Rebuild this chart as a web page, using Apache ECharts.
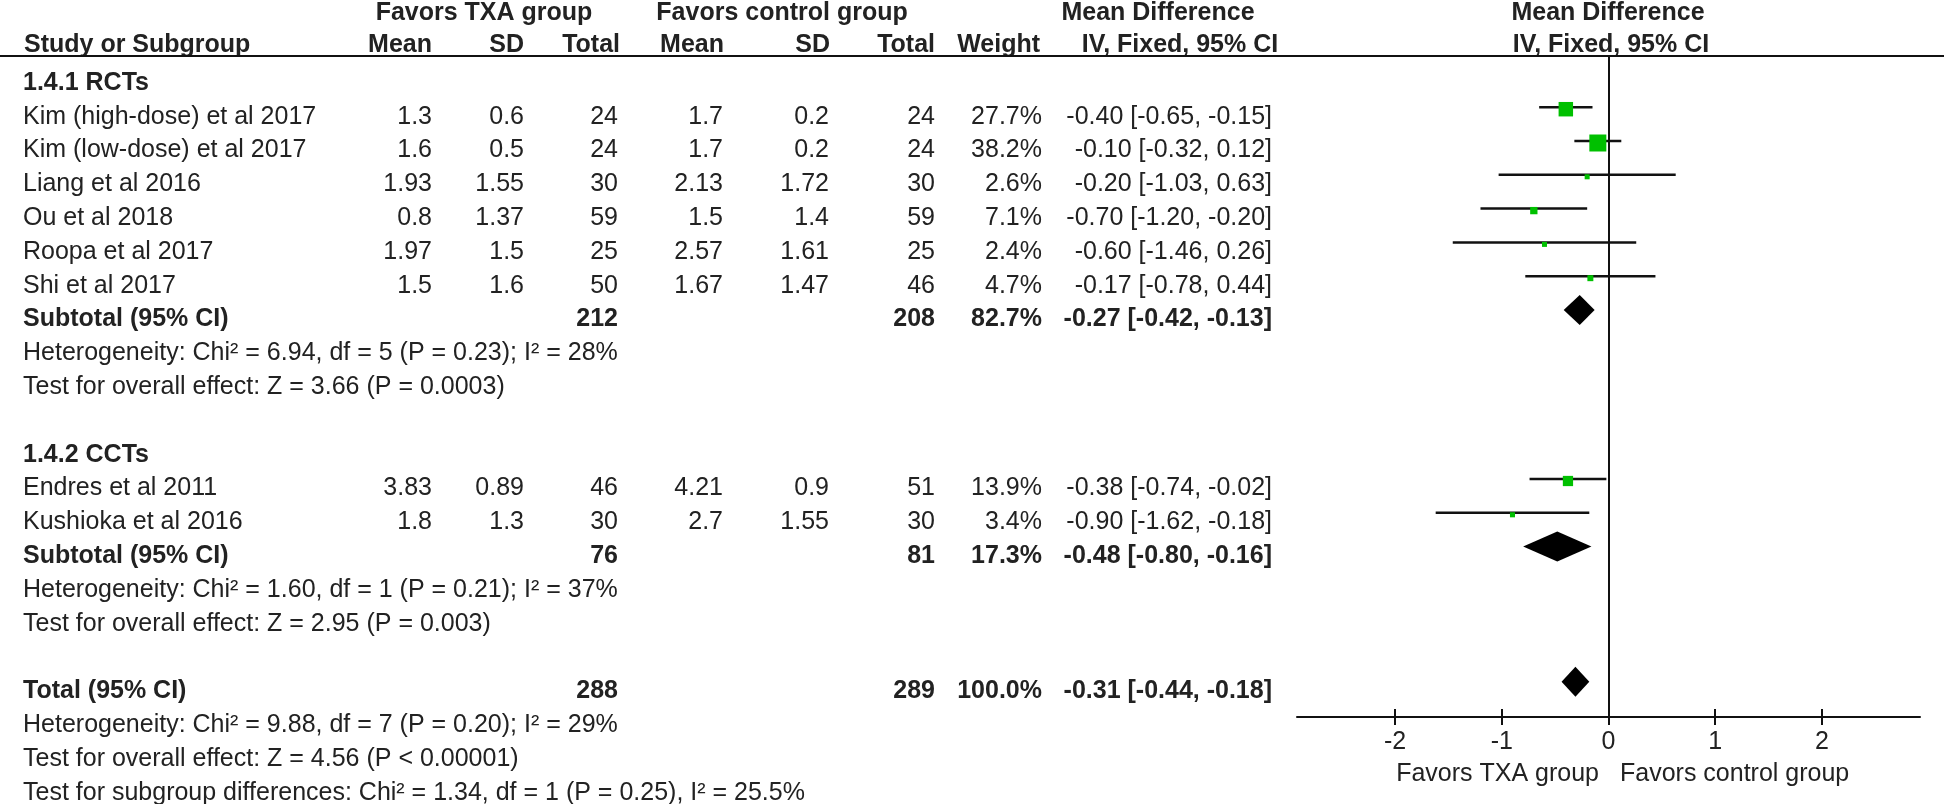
<!DOCTYPE html>
<html><head><meta charset="utf-8">
<script src="https://cdn.jsdelivr.net/npm/echarts@6/dist/echarts.min.js"></script>
<style>html,body{margin:0;padding:0;background:#fff}#c{width:1946px;height:804px}</style>
</head><body><div id="c"></div>
<script>
// ---------------- DATA ----------------
const studies = ["Kim (high-dose) et al 2017","Kim (low-dose) et al 2017","Liang et al 2016","Ou et al 2018","Roopa et al 2017","Shi et al 2017","Endres et al 2011","Kushioka et al 2016"];
const studyGroup = [0,0,0,0,0,0,1,1];
const txaMean  = [1.3, 1.6, 1.93, 0.8, 1.97, 1.5, 3.83, 1.8];
const txaSD    = [0.6, 0.5, 1.55, 1.37, 1.5, 1.6, 0.89, 1.3];
const txaTotal = [24, 24, 30, 59, 25, 50, 46, 30];
const ctlMean  = [1.7, 1.7, 2.13, 1.5, 2.57, 1.67, 4.21, 2.7];
const ctlSD    = [0.2, 0.2, 1.72, 1.4, 1.61, 1.47, 0.9, 1.55];
const ctlTotal = [24, 24, 30, 59, 25, 46, 51, 30];
const weight   = [27.7, 38.2, 2.6, 7.1, 2.4, 4.7, 13.9, 3.4];
const md       = [-0.40, -0.10, -0.20, -0.70, -0.60, -0.17, -0.38, -0.90];
const ciLow    = [-0.65, -0.32, -1.03, -1.20, -1.46, -0.78, -0.74, -1.62];
const ciHigh   = [-0.15, 0.12, 0.63, -0.20, 0.26, 0.44, -0.02, -0.18];

const subgroupNames = ["1.4.1 RCTs", "1.4.2 CCTs"];
const subTxaTotal = [212, 76];
const subCtlTotal = [208, 81];
const subWeight = [82.7, 17.3];
const subMd = [-0.27, -0.48];
const subLow = [-0.42, -0.80];
const subHigh = [-0.13, -0.16];
const subHet = ["Heterogeneity: Chi² = 6.94, df = 5 (P = 0.23); I² = 28%", "Heterogeneity: Chi² = 1.60, df = 1 (P = 0.21); I² = 37%"];
const subTest = ["Test for overall effect: Z = 3.66 (P = 0.0003)", "Test for overall effect: Z = 2.95 (P = 0.003)"];

const totalTxa = 288, totalCtl = 289, totalWeight = 100.0;
const totalMd = -0.31, totalLow = -0.44, totalHigh = -0.18;
const totalHet = "Heterogeneity: Chi² = 9.88, df = 7 (P = 0.20); I² = 29%";
const totalTest = "Test for overall effect: Z = 4.56 (P < 0.00001)";
const subgroupDiff = "Test for subgroup differences: Chi² = 1.34, df = 1 (P = 0.25), I² = 25.5%";

const tickValues = [-2, -1, 0, 1, 2];
const tickLabels = ["-2", "-1", "0", "1", "2"];
const axisMin = -2.92, axisMax = 2.92;
const favorsLeft = "Favors TXA group", favorsRight = "Favors control group";

// ---------------- LAYOUT ----------------
const W = 1946, H = 804, ROW0 = 83, ROWH = 33.8, PLOT_SHIFT = 9.6;
const FONT = '"Liberation Sans", Arial, Helvetica, sans-serif';
const TXT = '#222', INK = '#111', GREEN = '#00c000';
const FS = 25;
const px2row = y => (y - ROW0) / ROWH;
const COL = {
  study: {x: 23, a: 'left'}, tMean: {x: 432, a: 'right'}, tSD: {x: 524, a: 'right'}, tTot: {x: 618, a: 'right'},
  cMean: {x: 723, a: 'right'}, cSD: {x: 829, a: 'right'}, cTot: {x: 935, a: 'right'},
  wt: {x: 1042, a: 'right'}, ci: {x: 1272, a: 'right'}
};
const cells = [];
function put(x, align, row, text, bold) { cells.push({x, align, row, text: String(text), bold: !!bold}); }
function cell(col, row, text, bold) { put(COL[col].x, COL[col].a, row, text, bold); }
const fmtCI = (m, l, h) => m.toFixed(2) + ' [' + l.toFixed(2) + ', ' + h.toFixed(2) + ']';

// headers
const h1 = px2row(13), h2 = px2row(45);
put(484, 'center', h1, "Favors TXA group", true);
put(782, 'center', h1, "Favors control group", true);
put(1158, 'center', h1, "Mean Difference", true);
put(1608, 'center', h1, "Mean Difference", true);
put(24, 'left', h2, "Study or Subgroup", true);
put(432, 'right', h2, "Mean", true);
put(524, 'right', h2, "SD", true);
put(620, 'right', h2, "Total", true);
put(724, 'right', h2, "Mean", true);
put(830, 'right', h2, "SD", true);
put(935, 'right', h2, "Total", true);
put(1040, 'right', h2, "Weight", true);
put(1180, 'center', h2, "IV, Fixed, 95% CI", true);
put(1611, 'center', h2, "IV, Fixed, 95% CI", true);

const studyRows = [], diamonds = [];
let r = 0;
for (let g = 0; g < subgroupNames.length; g++) {
  cell('study', r, subgroupNames[g], true); r++;
  for (let i = 0; i < studies.length; i++) {
    if (studyGroup[i] !== g) continue;
    cell('study', r, studies[i]);
    cell('tMean', r, txaMean[i]); cell('tSD', r, txaSD[i]); cell('tTot', r, txaTotal[i]);
    cell('cMean', r, ctlMean[i]); cell('cSD', r, ctlSD[i]); cell('cTot', r, ctlTotal[i]);
    cell('wt', r, weight[i].toFixed(1) + '%');
    cell('ci', r, fmtCI(md[i], ciLow[i], ciHigh[i]));
    studyRows[i] = r; r++;
  }
  cell('study', r, "Subtotal (95% CI)", true);
  cell('tTot', r, subTxaTotal[g], true); cell('cTot', r, subCtlTotal[g], true);
  cell('wt', r, subWeight[g].toFixed(1) + '%', true);
  cell('ci', r, fmtCI(subMd[g], subLow[g], subHigh[g]), true);
  diamonds.push([subMd[g], subLow[g], subHigh[g], r]); r++;
  cell('study', r, subHet[g]); r++;
  cell('study', r, subTest[g]); r++;
  r++; // blank line
}
cell('study', r, "Total (95% CI)", true);
cell('tTot', r, totalTxa, true); cell('cTot', r, totalCtl, true);
cell('wt', r, totalWeight.toFixed(1) + '%', true);
cell('ci', r, fmtCI(totalMd, totalLow, totalHigh), true);
diamonds.push([totalMd, totalLow, totalHigh, r]); r++;
cell('study', r, totalHet); r++;
cell('study', r, totalTest); r++;
cell('study', r, subgroupDiff); r++;

const favRow = px2row(774);
put(1599, 'right', favRow, favorsLeft, false);
put(1620, 'left', favRow, favorsRight, false);

// plot rows (marks sit slightly above text centre)
const PLOT_TOP = 57, PLOT_BOTTOM_PX = 717;
const shift = PLOT_SHIFT / ROWH;
const plotYMin = (PLOT_TOP - (ROW0 - PLOT_SHIFT)) / ROWH;
const plotYMax = (PLOT_BOTTOM_PX - (ROW0 - PLOT_SHIFT)) / ROWH;

const ciData = studies.map((s, i) => [ciLow[i], ciHigh[i], studyRows[i]]);
const sqData = studies.map((s, i) => [md[i], studyRows[i], weight[i]]);

const chart = echarts.init(document.getElementById('c'), null, {renderer: 'canvas'});
chart.setOption({
  animation: false,
  backgroundColor: '#fff',
  grid: [
    {left: 0, top: 0, width: W, height: H, show: false},
    {left: 1297, right: 26, top: PLOT_TOP, bottom: H - PLOT_BOTTOM_PX, show: false}
  ],
  xAxis: [
    {gridIndex: 0, type: 'value', min: 0, max: W, show: false},
    {gridIndex: 1, type: 'value', min: axisMin, max: axisMax, position: 'bottom',
      axisLine: {show: true, onZero: false, lineStyle: {color: INK, width: 2}},
      axisTick: {show: true, inside: false, length: 8, lineStyle: {color: INK, width: 2}, customValues: tickValues},
      axisLabel: {show: true, margin: 13, fontSize: FS, color: TXT, fontFamily: FONT, customValues: tickValues,
        formatter: v => { const k = tickValues.indexOf(Math.round(v)); return k >= 0 ? tickLabels[k] : ''; }},
      splitLine: {show: false}},
    {gridIndex: 1, type: 'value', min: axisMin, max: axisMax, position: 'bottom',
      axisLine: {show: false, onZero: false},
      axisTick: {show: true, inside: true, length: 8, lineStyle: {color: INK, width: 2}, customValues: tickValues},
      axisLabel: {show: false}, splitLine: {show: false}}
  ],
  yAxis: [
    {gridIndex: 0, type: 'value', inverse: true, min: -ROW0 / ROWH, max: (H - ROW0) / ROWH, show: false},
    {gridIndex: 1, type: 'value', inverse: true, min: plotYMin, max: plotYMax, show: false}
  ],
  series: [
    { // table text
      type: 'custom', xAxisIndex: 0, yAxisIndex: 0, silent: true, clip: false,
      data: cells.map(c => [c.x, c.row]),
      renderItem: (params, api) => {
        const c = cells[params.dataIndex];
        const p = api.coord([c.x, c.row]);
        return {type: 'text', x: p[0], y: p[1], style: {
          text: c.text, fill: TXT, fontSize: FS, fontFamily: FONT, fontWeight: c.bold ? 'bold' : 'normal',
          align: c.align, verticalAlign: 'middle'}};
      }
    },
    { // header rule
      type: 'custom', xAxisIndex: 0, yAxisIndex: 0, silent: true, clip: false,
      data: [[0, px2row(56)]],
      renderItem: (params, api) => {
        const a = api.coord([0, px2row(56)]), b = api.coord([W, px2row(56)]);
        return {type: 'line', shape: {x1: a[0], y1: a[1], x2: b[0] - 2, y2: b[1]}, style: {stroke: INK, lineWidth: 2}};
      }
    },
    { // CI lines
      type: 'custom', xAxisIndex: 1, yAxisIndex: 1, silent: true,
      encode: {x: [0, 1], y: 2},
      data: ciData,
      renderItem: (params, api) => {
        const a = api.coord([api.value(0), api.value(2)]), b = api.coord([api.value(1), api.value(2)]);
        return {type: 'line', shape: {x1: a[0], y1: a[1], x2: b[0], y2: b[1]}, style: {stroke: INK, lineWidth: 2.5}};
      }
    },
    { // study squares
      type: 'scatter', xAxisIndex: 1, yAxisIndex: 1, silent: true,
      symbol: 'rect', symbolOffset: [0, 2],
      symbolSize: v => Math.max(5, 2.75 * Math.sqrt(v[2])),
      itemStyle: {color: GREEN, opacity: 1},
      data: sqData,
      markLine: {silent: true, symbol: ['none', 'none'], label: {show: false},
        lineStyle: {color: INK, width: 2, type: 'solid'}, data: [{xAxis: 0}]}
    },
    { // diamonds
      type: 'custom', xAxisIndex: 1, yAxisIndex: 1, silent: true,
      encode: {x: [0, 1, 2], y: 3},
      data: diamonds,
      renderItem: (params, api) => {
        const row = api.value(3);
        const c = api.coord([api.value(0), row]);
        const l = api.coord([api.value(1), row]);
        const h = api.coord([api.value(2), row]);
        return {type: 'polygon', shape: {points: [[l[0], c[1]], [c[0], c[1] - 15], [h[0], c[1]], [c[0], c[1] + 15]]},
          style: {fill: '#000'}};
      }
    }
  ]
});
</script></body></html>
